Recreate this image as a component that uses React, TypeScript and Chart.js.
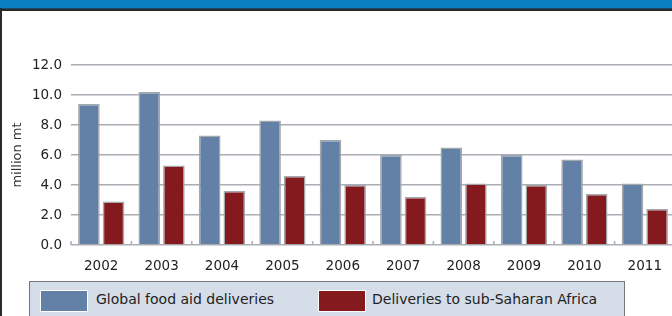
import React, { useEffect, useRef } from "react";
import { Chart, registerables } from "chart.js";

Chart.register(...registerables);

const years = ["2002", "2003", "2004", "2005", "2006", "2007", "2008", "2009", "2010", "2011"];
const globalDeliveries = [9.4, 10.2, 7.3, 8.3, 7.0, 6.0, 6.5, 6.0, 5.7, 4.1];
const africaDeliveries = [2.9, 5.3, 3.6, 4.6, 4.0, 3.2, 4.1, 4.0, 3.4, 2.4];
const seriesLabels = ["Global food aid deliveries", "Deliveries to sub-Saharan Africa"];
const seriesColors = ["#6380a6", "#841a1e"];
const yTitle = "million mt";
const yMin = 0;
const yMax = 12;
const yStep = 2;

const FONT = "'DejaVu Sans', Verdana, sans-serif";
const GRID = "#a9aeb4";

const boundaryTicks = {
  id: "boundaryTicks",
  afterDatasetsDraw(chart: any) {
    const xs = chart.scales.x;
    const ys = chart.scales.y;
    const ctx = chart.ctx;
    const base = ys.getPixelForValue(0);
    ctx.save();
    ctx.strokeStyle = GRID;
    ctx.lineWidth = 1.5;
    for (let i = 0; i <= years.length; i++) {
      const x = xs.getPixelForValue(i - 0.5);
      ctx.beginPath();
      ctx.moveTo(x, base);
      ctx.lineTo(x, base - 4);
      ctx.stroke();
    }
    ctx.restore();
  },
};

export default function App() {
  const ref = useRef<HTMLCanvasElement>(null);
  useEffect(() => {
    if (!ref.current) return;
    const chart = new Chart(ref.current, {
      type: "bar",
      data: {
        labels: years,
        datasets: [
          {
            label: seriesLabels[0],
            data: globalDeliveries,
            backgroundColor: seriesColors[0],
            borderColor: "#a4a8ad",
            borderWidth: 1.5,
          },
          {
            label: seriesLabels[1],
            data: africaDeliveries,
            backgroundColor: seriesColors[1],
            borderColor: "#a4a8ad",
            borderWidth: 1.5,
          },
        ],
      },
      options: {
        animation: false,
        responsive: false,
        devicePixelRatio: 1,
        layout: { padding: { top: 54, right: 5, bottom: 0, left: 0 } },
        datasets: { bar: { categoryPercentage: 0.815, barPercentage: 0.878 } },
        plugins: { legend: { display: false }, tooltip: { enabled: false } },
        scales: {
          x: {
            grid: { display: false },
            border: { display: false },
            ticks: { font: { family: FONT, size: 13.5 }, color: "#222", padding: 5, maxRotation: 0 },
            afterFit: (s: any) => {
              s.height = 36;
            },
          },
          y: {
            min: yMin,
            max: yMax,
            grid: { color: GRID, lineWidth: 1.5, drawTicks: false },
            border: { display: false },
            ticks: {
              stepSize: yStep,
              font: { family: FONT, size: 13.5 },
              color: "#222",
              padding: 9,
              callback: (v: any) => Number(v).toFixed(1),
            },
            title: {
              display: true,
              text: yTitle,
              font: { family: FONT, size: 13 },
              color: "#333",
              padding: { top: 10, bottom: 0 },
            },
            afterFit: (s: any) => {
              s.width = 71;
            },
          },
        },
      },
      plugins: [boundaryTicks],
    });
    return () => chart.destroy();
  }, []);

  const swatchLefts = [40, 318];
  const textLefts = [96, 372];

  return (
    <div
      style={{
        position: "fixed",
        left: 0,
        top: 0,
        width: 672,
        height: 316,
        overflow: "hidden",
        background: "#fff",
        fontFamily: FONT,
      }}
    >
      <div style={{ position: "absolute", left: 0, top: 0, width: 672, height: 8, background: "#0b80c1" }} />
      <div style={{ position: "absolute", left: 0, top: 8, width: 672, height: 1, background: "#1b4d70" }} />
      <div style={{ position: "absolute", left: 0, top: 9, width: 672, height: 2, background: "#2a2a2a" }} />
      <div style={{ position: "absolute", left: 0, top: 8, width: 2, height: 308, background: "#2a2a2a" }} />
      <canvas
        ref={ref}
        width={680}
        height={270}
        style={{ position: "absolute", left: 0, top: 11, width: 680, height: 270 }}
      />
      <div
        style={{
          position: "absolute",
          left: 29,
          top: 281,
          width: 596,
          height: 50,
          boxSizing: "border-box",
          border: "1.5px solid #777",
          background: "#d5dde8",
        }}
      />
      {seriesLabels.map((lab, i) => (
        <React.Fragment key={lab}>
          <div
            style={{
              position: "absolute",
              left: swatchLefts[i],
              top: 290,
              width: 48,
              height: 22,
              boxSizing: "border-box",
              border: "1px solid #fff",
              background: seriesColors[i],
            }}
          />
          <div
            style={{
              position: "absolute",
              left: textLefts[i],
              top: 291,
              fontSize: 14,
              lineHeight: "17px",
              color: "#222",
              whiteSpace: "nowrap",
            }}
          >
            {lab}
          </div>
        </React.Fragment>
      ))}
    </div>
  );
}
